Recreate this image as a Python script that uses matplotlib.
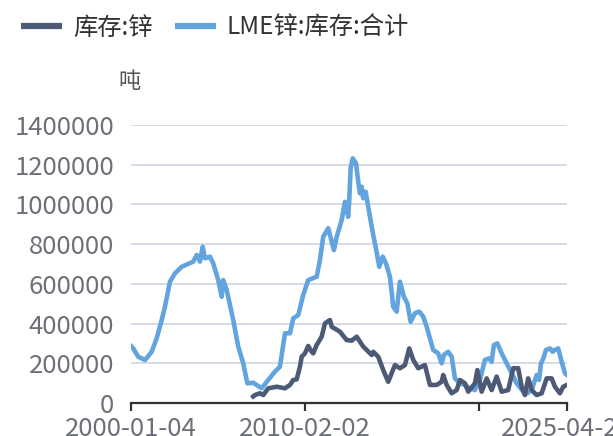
import matplotlib
matplotlib.use("Agg")
import matplotlib.pyplot as plt

plt.rcParams['font.family'] = ['Noto Sans CJK SC', 'DejaVu Sans']

# LME锌:库存:合计 (吨), 横轴为年份(小数)
lme_years = [2000.01, 2000.14, 2000.43, 2000.82, 2001.21, 2001.50, 2001.79, 2001.98,
             2002.27, 2002.56, 2002.95, 2003.62, 2003.82, 2004.01, 2004.17, 2004.30,
             2004.59, 2004.78, 2005.07, 2005.27, 2005.36, 2005.56, 2005.94, 2006.23,
             2006.52, 2006.76, 2007.10, 2007.59, 2007.97, 2008.36, 2008.65, 2008.94,
             2009.23, 2009.42, 2009.71, 2010.00, 2010.29, 2010.78, 2010.97, 2011.16,
             2011.45, 2011.78, 2011.94, 2012.23, 2012.42, 2012.52, 2012.61, 2012.67,
             2012.75, 2012.87, 2013.06, 2013.19, 2013.29, 2013.39, 2013.48, 2013.62,
             2013.77, 2013.97, 2014.10, 2014.22, 2014.41, 2014.61, 2014.80, 2015.03,
             2015.22, 2015.42, 2015.61, 2015.84, 2016.04, 2016.23, 2016.48, 2016.73,
             2016.96, 2017.16, 2017.54, 2017.83, 2018.03, 2018.16, 2018.41, 2018.61,
             2018.80, 2019.09, 2019.38, 2019.67, 2019.96, 2020.25, 2020.54, 2020.79,
             2020.93, 2021.06, 2021.26, 2021.51, 2021.80, 2022.09, 2022.38, 2022.77,
             2023.00, 2023.25, 2023.54, 2023.68, 2023.79, 2023.93, 2024.08, 2024.31,
             2024.47, 2024.60, 2024.79, 2024.99, 2025.18, 2025.30]
lme_stock = [287000, 275000, 233000, 216000, 258000, 326000, 418000, 485000,
             611000, 653000, 686000, 712000, 745000, 712000, 787000, 729000,
             737000, 703000, 619000, 535000, 619000, 569000, 418000, 284000,
             200000, 99000, 102000, 74000, 116000, 158000, 183000, 351000,
             351000, 426000, 443000, 544000, 619000, 636000, 720000, 837000,
             880000, 770000, 837000, 921000, 1013000, 972000, 938000, 1022000,
             1182000, 1232000, 1207000, 1115000, 1056000, 1089000, 1031000, 1064000,
             989000, 888000, 829000, 779000, 686000, 737000, 703000, 636000,
             485000, 460000, 611000, 535000, 502000, 409000, 452000, 460000,
             435000, 384000, 267000, 250000, 200000, 242000, 258000, 233000,
             124000, 99000, 91000, 74000, 65000, 116000, 217000, 225000,
             208000, 292000, 300000, 250000, 200000, 150000, 99000, 57000,
             49000, 65000, 141000, 116000, 200000, 225000, 267000, 275000,
             258000, 267000, 275000, 208000, 150000, 141000]

# 库存:锌 (吨)
shfe_years = [2007.10, 2007.20, 2007.49, 2007.68, 2007.97, 2008.46, 2008.94, 2009.23,
              2009.42, 2009.62, 2009.81, 2009.91, 2010.10, 2010.29, 2010.49, 2010.58,
              2010.78, 2011.07, 2011.26, 2011.55, 2011.65, 2012.13, 2012.52, 2012.81,
              2013.10, 2013.48, 2013.68, 2013.97, 2014.06, 2014.35, 2014.64, 2014.93,
              2015.13, 2015.32, 2015.61, 2015.90, 2016.15, 2016.38, 2016.67, 2017.06,
              2017.35, 2017.74, 2018.03, 2018.12, 2018.32, 2018.61, 2018.90, 2019.09,
              2019.38, 2019.57, 2019.96, 2020.10, 2020.35, 2020.64, 2020.93, 2021.22,
              2021.51, 2021.89, 2022.18, 2022.47, 2022.67, 2022.86, 2023.05, 2023.25,
              2023.54, 2023.83, 2024.12, 2024.41, 2024.60, 2024.89, 2025.08, 2025.30]
shfe_stock = [33000, 40000, 49000, 40000, 74000, 82000, 74000, 91000,
              116000, 119000, 183000, 233000, 250000, 287000, 258000, 250000,
              292000, 334000, 401000, 418000, 384000, 359000, 317000, 314000,
              334000, 284000, 267000, 242000, 258000, 233000, 166000, 107000,
              150000, 191000, 175000, 191000, 275000, 217000, 175000, 191000,
              91000, 91000, 107000, 141000, 91000, 49000, 65000, 116000,
              99000, 57000, 99000, 166000, 57000, 124000, 65000, 133000,
              57000, 65000, 175000, 175000, 82000, 40000, 124000, 65000,
              40000, 49000, 124000, 124000, 82000, 49000, 82000, 91000]

# 横轴刻度 (最后一个标签被画布右边截断)
tick_pos = [2000.01, 2010.09, 2020.2, 2025.30]
tick_labels = ['2000-01-04', '2010-02-02', '', '2025-04-25']
y_ticks = list(range(0, 1400001, 200000))

fig = plt.figure(figsize=(6.13, 4.36), dpi=100)
W, H = 613, 436
ax = fig.add_axes([131 / W, (H - 403) / H, (567 - 131) / W, (403 - 125) / H])

ax.plot(shfe_years, shfe_stock, color='#4c5a76', lw=3.3, label='库存:锌',
        solid_joinstyle='round', zorder=3)
ax.plot(lme_years, lme_stock, color='#62a4de', lw=3.3, label='LME锌:库存:合计',
        solid_joinstyle='round', zorder=2)

ax.set_xlim(2000.01, 2025.30)
ax.set_ylim(0, 1400000)
ax.set_yticks(y_ticks)
ax.set_yticklabels([str(v) for v in y_ticks])
ax.set_xticks(tick_pos)
ax.set_xticklabels(tick_labels)

ax.grid(axis='y', color='#d6dae7', lw=1.4)
ax.set_axisbelow(True)
for s in ['top', 'right', 'left']:
    ax.spines[s].set_visible(False)
ax.spines['bottom'].set_color('#333333')
ax.spines['bottom'].set_linewidth(1.6)
ax.spines['bottom'].set_zorder(4)

ax.tick_params(axis='y', length=0, pad=12, labelsize=18.5, labelcolor='#6e7079')
ax.tick_params(axis='x', length=6, width=1.6, color='#333333', pad=3,
               labelsize=18.5, labelcolor='#6e7079')

# 单位
fig.text(129 / W, 1 - 82 / H, '吨', ha='center', va='center',
         fontsize=16, color='#555555')

ax.legend(loc='upper left', bbox_to_anchor=(21 / W, 1 - 15 / H),
          bbox_transform=fig.transFigure, ncol=2, frameon=False,
          fontsize=17.5, handlelength=1.7, handletextpad=0.45,
          columnspacing=0.9, borderpad=0, borderaxespad=0,
          labelcolor='#333333')
for line in ax.get_legend().get_lines():
    line.set_linewidth(4.5)
    line.set_solid_capstyle('butt')

fig.savefig('out.png', dpi=100)
